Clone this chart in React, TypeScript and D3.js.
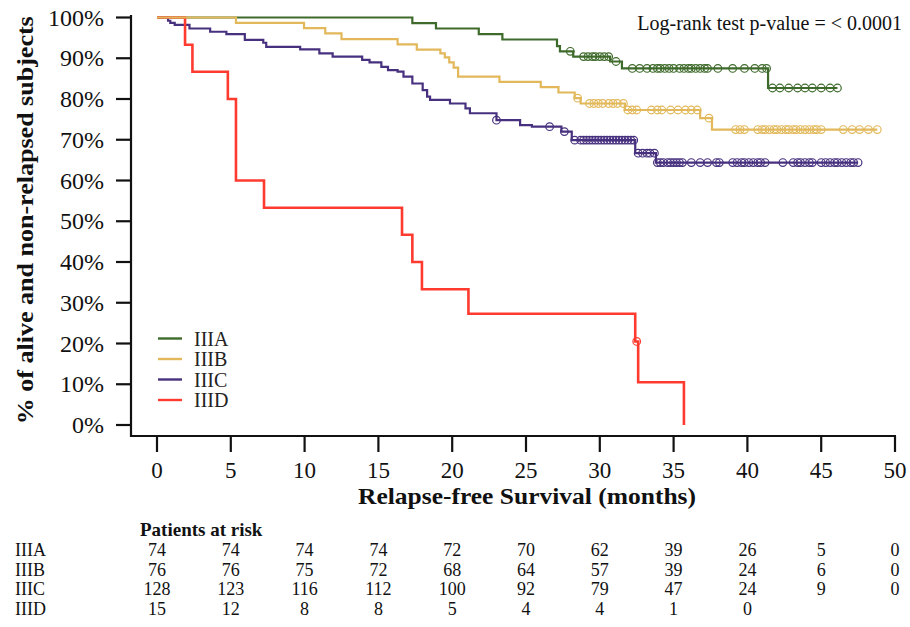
import React, { useRef, useEffect } from 'react';
import * as d3 from 'd3';

// Kaplan-Meier steps (months, % surviving)
const groups = ['IIIA', 'IIIB', 'IIIC', 'IIID'];
const groupColors = ['#3e6a2b', '#e2b85a', '#47317f', '#ff3b30'];

const iiiaTimes = [0, 17.3, 18.9, 21.8, 23.4, 27.1, 27.3, 28.2, 30.7, 31.5, 41.4];
const iiiaSurv = [100, 98.6, 97.3, 95.9, 94.6, 93.0, 91.7, 90.4, 89.2, 87.5, 82.7];
const iiiaCensor = [28.0, 28.9, 29.2, 29.5, 29.7, 30.0, 30.3, 30.6, 31.1, 32.2, 32.7, 33.2, 33.6, 33.9,
  34.1, 34.4, 34.7, 35.0, 35.4, 35.7, 36.0, 36.2, 36.5, 36.8, 37.1, 37.3, 38.0, 39.0, 39.8, 40.5,
  41.0, 41.3, 41.7, 42.2, 42.8, 43.4, 43.9, 44.4, 45.0, 45.6, 46.1];
const iiiaEnd = 46.1;

const iiibTimes = [0, 5.35, 9.96, 11.4, 12.5, 16.3, 17.6, 19.2, 19.5, 19.8, 20.1, 20.4, 23.2, 26.0, 27.2,
  28.3, 28.7, 31.7, 36.8, 37.6];
const iiibSurv = [100, 98.7, 97.4, 96.1, 94.7, 93.4, 92.1, 91.2, 90.2, 89.0, 87.7, 85.5, 84.2, 82.9, 81.6,
  80.2, 78.9, 77.3, 75.3, 72.5];
const iiibCensor = [28.5, 29.3, 29.6, 29.9, 30.2, 30.6, 30.9, 31.2, 31.6, 31.9, 32.2, 32.5, 33.5, 33.9,
  34.2, 34.8, 35.3, 35.8, 36.2, 36.6, 37.4, 39.2, 39.5, 39.8, 40.7, 41.0, 41.2, 41.5, 41.8, 42.0, 42.3,
  42.6, 42.8, 43.1, 43.3, 43.6, 43.9, 44.2, 44.5, 44.7, 45.0, 46.5, 47.1, 47.6, 48.2, 48.8];
const iiibEnd = 48.8;

const iiicTimes = [0, 0.75, 0.9, 1.2, 2.2, 3.6, 4.7, 5.95, 7.2, 7.4, 9.7, 11.0, 11.9, 13.9, 14.4, 15.2,
  15.65, 16.3, 16.7, 17.3, 18.0, 18.3, 18.5, 19.85, 20.9, 21.2, 23.0, 24.6, 25.4, 27.4, 28.1, 32.4, 33.8];
const iiicSurv = [100, 99.2, 98.7, 98.2, 97.3, 96.5, 95.9, 94.5, 93.8, 92.8, 92.2, 91.2, 90.4, 89.6, 89.0,
  87.9, 87.1, 86.7, 85.5, 83.8, 82.2, 80.6, 79.8, 78.9, 77.7, 76.5, 74.8, 73.6, 73.2, 72.0, 69.9, 66.7, 64.4];
const iiicCensor = [23.0, 26.6, 27.6, 28.3, 28.7, 28.9, 29.1, 29.3, 29.5, 29.7, 29.9, 30.1, 30.3, 30.5,
  30.7, 30.9, 31.1, 31.3, 31.5, 31.7, 31.9, 32.1, 32.3, 32.6, 32.9, 33.2, 33.4, 33.7, 33.9, 34.1, 34.3,
  34.6, 34.8, 35.0, 35.2, 35.4, 35.6, 36.2, 36.8, 37.3, 37.9, 38.1, 39.0, 39.3, 39.6, 39.8, 40.1, 40.4,
  40.7, 40.9, 41.2, 42.4, 43.1, 43.4, 43.6, 43.9, 44.2, 44.4, 45.0, 45.3, 45.6, 45.9, 46.1, 46.4, 46.7,
  47.0, 47.2, 47.5];
const iiicEnd = 47.5;

const iiidTimes = [0, 1.9, 2.4, 4.8, 5.35, 7.25, 16.6, 17.3, 17.95, 21.1, 32.4, 32.6, 35.7];
const iiidSurv = [100, 93.3, 86.7, 80.0, 60.0, 53.3, 46.7, 40.0, 33.3, 27.3, 20.5, 10.5, 0];
const iiidCensor = [32.5];
const iiidEnd = 35.7;

// Patients at risk table
const riskTimes = [0, 5, 10, 15, 20, 25, 30, 35, 40, 45, 50];
const riskIIIA = [74, 74, 74, 74, 72, 70, 62, 39, 26, 5, 0];
const riskIIIB = [76, 76, 75, 72, 68, 64, 57, 39, 24, 6, 0];
const riskIIIC = [128, 123, 116, 112, 100, 92, 79, 47, 24, 9, 0];
const riskIIID = [15, 12, 8, 8, 5, 4, 4, 1, 0];

const yTicks = [0, 10, 20, 30, 40, 50, 60, 70, 80, 90, 100];

const FONT = '"Liberation Serif", "Times New Roman", serif';

const App: React.FC = () => {
  const svgRef = useRef<SVGSVGElement>(null);

  useEffect(() => {
    if (!svgRef.current) return;
    const svg = d3.select(svgRef.current);
    svg.selectAll('*').remove();

    const x = d3.scaleLinear().domain([0, 50]).range([157, 895]);
    const y = d3.scaleLinear().domain([0, 100]).range([425, 17.5]);
    const axisX = 131;
    const axisY = 436;

    const series = [
      { times: iiiaTimes, surv: iiiaSurv, censor: iiiaCensor, end: iiiaEnd, color: groupColors[0], w: 2.2 },
      { times: iiicTimes, surv: iiicSurv, censor: iiicCensor, end: iiicEnd, color: groupColors[2], w: 2.2 },
      { times: iiidTimes, surv: iiidSurv, censor: iiidCensor, end: iiidEnd, color: groupColors[3], w: 2.6 },
      { times: iiibTimes, surv: iiibSurv, censor: iiibCensor, end: iiibEnd, color: groupColors[1], w: 2.2 },
    ];

    const survAt = (times: number[], surv: number[], t: number) => {
      let v = surv[0];
      for (let i = 0; i < times.length; i++) if (times[i] <= t) v = surv[i];
      return v;
    };

    const line = d3.line<[number, number]>()
      .x(d => x(d[0]))
      .y(d => y(d[1]))
      .curve(d3.curveStepAfter);

    series.forEach(s => {
      const pts: [number, number][] = s.times.map((t, i) => [t, s.surv[i]]);
      const last = s.times[s.times.length - 1];
      if (s.end > last) pts.push([s.end, s.surv[s.surv.length - 1]]);
      svg.append('path')
        .datum(pts)
        .attr('fill', 'none')
        .attr('stroke', s.color)
        .attr('stroke-width', s.w)
        .attr('d', line);
      svg.append('g')
        .selectAll('circle')
        .data(s.censor)
        .enter()
        .append('circle')
        .attr('cx', d => x(d))
        .attr('cy', d => y(survAt(s.times, s.surv, d)))
        .attr('r', 3.8)
        .attr('fill', 'none')
        .attr('stroke', s.color)
        .attr('stroke-width', 1.2);
    });

    // Axes
    svg.append('line')
      .attr('x1', axisX).attr('x2', axisX)
      .attr('y1', 15).attr('y2', axisY + 1)
      .attr('stroke', '#111').attr('stroke-width', 2.2);
    svg.append('line')
      .attr('x1', axisX - 1).attr('x2', x(50) + 1)
      .attr('y1', axisY).attr('y2', axisY)
      .attr('stroke', '#111').attr('stroke-width', 2.2);

    const yt = svg.append('g');
    yTicks.forEach(v => {
      yt.append('line')
        .attr('x1', axisX - 15).attr('x2', axisX)
        .attr('y1', y(v)).attr('y2', y(v))
        .attr('stroke', '#111').attr('stroke-width', 2.2);
      yt.append('text')
        .attr('x', 104)
        .attr('y', y(v) + 8)
        .attr('text-anchor', 'end')
        .attr('font-family', FONT)
        .attr('font-size', 24)
        .attr('fill', '#111')
        .text(`${v}%`);
    });

    const xt = svg.append('g');
    riskTimes.forEach(v => {
      xt.append('line')
        .attr('x1', x(v)).attr('x2', x(v))
        .attr('y1', axisY).attr('y2', axisY + 16)
        .attr('stroke', '#111').attr('stroke-width', 2.2);
      xt.append('text')
        .attr('x', x(v))
        .attr('y', 478)
        .attr('text-anchor', 'middle')
        .attr('font-family', FONT)
        .attr('font-size', 23)
        .attr('fill', '#111')
        .text(v);
    });

    // Axis titles
    svg.append('text')
      .attr('x', 527)
      .attr('y', 504)
      .attr('text-anchor', 'middle')
      .attr('font-family', FONT)
      .attr('font-weight', 'bold')
      .attr('font-size', 23)
      .attr('textLength', 338)
      .attr('lengthAdjust', 'spacingAndGlyphs')
      .attr('fill', '#111')
      .text('Relapse-free Survival (months)');

    svg.append('text')
      .attr('transform', `translate(33, ${(y(0) + y(100)) / 2 - 1}) rotate(-90)`)
      .attr('text-anchor', 'middle')
      .attr('font-family', FONT)
      .attr('font-weight', 'bold')
      .attr('font-size', 23)
      .attr('textLength', 408)
      .attr('lengthAdjust', 'spacingAndGlyphs')
      .attr('fill', '#111')
      .text('% of alive and non-relapsed subjects');

    svg.append('text')
      .attr('x', 902)
      .attr('y', 30)
      .attr('text-anchor', 'end')
      .attr('font-family', FONT)
      .attr('font-size', 20)
      .attr('fill', '#111')
      .text('Log-rank test p-value = < 0.0001');

    // Legend
    const legendY = [338.5, 359, 379.5, 400];
    groups.forEach((gname, i) => {
      svg.append('line')
        .attr('x1', 158).attr('x2', 182)
        .attr('y1', legendY[i]).attr('y2', legendY[i])
        .attr('stroke', groupColors[i]).attr('stroke-width', 2.4);
      svg.append('text')
        .attr('x', 194)
        .attr('y', legendY[i] + 7)
        .attr('font-family', FONT)
        .attr('font-size', 20)
        .attr('fill', '#222')
        .text(gname);
    });

    // Patients at risk
    svg.append('text')
      .attr('x', 140)
      .attr('y', 536)
      .attr('font-family', FONT)
      .attr('font-weight', 'bold')
      .attr('font-size', 19)
      .attr('fill', '#111')
      .text('Patients at risk');

    const riskRows = [riskIIIA, riskIIIB, riskIIIC, riskIIID];
    const rowY = [556, 575.5, 595, 614.5];
    riskRows.forEach((row, i) => {
      svg.append('text')
        .attr('x', 15)
        .attr('y', rowY[i])
        .attr('font-family', FONT)
        .attr('font-size', 18)
        .attr('fill', '#111')
        .text(groups[i]);
      row.forEach((n, j) => {
        svg.append('text')
          .attr('x', x(riskTimes[j]))
          .attr('y', rowY[i])
          .attr('text-anchor', 'middle')
          .attr('font-family', FONT)
          .attr('font-size', 18)
          .attr('fill', '#111')
          .text(n);
      });
    });
  }, []);

  return (
    <svg
      ref={svgRef}
      width={910}
      height={627}
      style={{ position: 'absolute', left: 0, top: 0, background: '#fff' }}
    />
  );
};

export default App;
